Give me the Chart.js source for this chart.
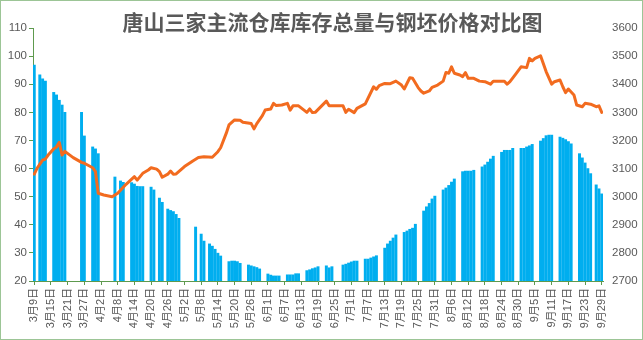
<!DOCTYPE html>
<html>
<head>
<meta charset="utf-8">
<script src="https://cdn.jsdelivr.net/npm/chart.js@4/dist/chart.umd.min.js"></script>
<style>
  html, body { margin: 0; padding: 0; background: #ffffff; }
  #frame { width: 641px; height: 338px; border: 1px solid #9CC596; background: #ffffff; }
  canvas { display: block; }
</style>
</head>
<body>
<div id="frame"><canvas id="c" width="641" height="338"></canvas></div>
<script>
const TITLE = '唐山三家主流仓库库存总量与钢坯价格对比图';
const YEAR = 2020;

// 库存总量（万吨），按交易日
const stockDates = [
  '3-9','3-11','3-12','3-13','3-16','3-17','3-18','3-19','3-20','3-26','3-27','3-30','3-31',
  '4-1','4-7','4-9','4-10','4-13','4-14','4-15','4-16','4-17','4-20','4-21','4-23','4-24',
  '4-26','4-27','4-28','4-29','4-30','5-6','5-8','5-9','5-11','5-12','5-13','5-14','5-15',
  '5-18','5-19','5-20','5-21','5-22','5-25','5-26','5-27','5-28','5-29',
  '6-1','6-2','6-3','6-4','6-5','6-8','6-9','6-10','6-11','6-12','6-15','6-16','6-17','6-18','6-19',
  '6-22','6-23','6-24','6-28','6-29','6-30','7-1','7-2','7-3',
  '7-6','7-7','7-8','7-9','7-10','7-13','7-14','7-15','7-16','7-17','7-20','7-21','7-22','7-23','7-24',
  '7-27','7-28','7-29','7-30','7-31','8-3','8-4','8-5','8-6','8-7','8-10','8-11','8-12','8-13','8-14',
  '8-17','8-18','8-19','8-20','8-21','8-24','8-25','8-26','8-27','8-28','8-31','9-1','9-2','9-3','9-4',
  '9-7','9-8','9-9','9-10','9-11','9-14','9-15','9-16','9-17','9-18','9-21','9-22','9-23','9-24','9-25',
  '9-27','9-28','9-29'
];
const stockValues = [
  96.8, 93.3, 91.9, 91.1, 87.1, 86.2, 84.3, 82.6, 80.0, 80.0, 71.6, 67.7, 67.0,
  65.3, 57.0, 55.6, 55.1, 55.0, 54.5, 53.7, 53.6, 53.6, 53.4, 52.4, 49.5, 48.0,
  45.6, 45.1, 44.7, 43.7, 42.3, 39.2, 36.7, 34.2, 33.2, 32.4, 31.3, 29.9, 28.9,
  26.9, 27.1, 27.1, 26.9, 26.3, 25.7, 25.4, 25.1, 24.8, 24.3,
  22.5, 22.1, 21.8, 21.8, 21.8, 22.2, 22.2, 22.2, 22.6, 22.6, 23.7, 24.0, 24.4, 24.7, 25.1,
  25.4, 24.7, 25.1, 25.7, 26.0, 26.4, 26.8, 27.1, 27.1,
  27.8, 27.8, 28.2, 28.6, 29.0, 31.7, 33.2, 34.2, 35.3, 36.4, 37.3, 37.8, 38.4, 38.8, 40.2,
  44.9, 46.4, 47.6, 49.2, 50.2, 52.4, 53.1, 54.0, 55.2, 56.3, 58.9, 59.1, 59.1, 59.1, 59.4,
  60.6, 61.3, 62.3, 63.4, 64.4, 65.8, 66.5, 66.5, 66.5, 67.2, 67.2, 67.2, 67.7, 68.1, 68.6,
  69.8, 70.7, 71.7, 71.9, 71.9, 71.2, 70.8, 70.3, 69.6, 68.8, 65.3, 63.8, 62.0, 60.0, 58.2,
  54.2, 52.8, 51.0
];

// 钢坯价格（元/吨）
const priceDates = [
  '3-9','3-10','3-12','3-13','3-14','3-16','3-17','3-18','3-19','3-20','3-23','3-26','3-27','3-30','3-31',
  '4-1','4-3','4-6','4-8','4-11','4-14','4-15','4-17','4-19','4-20','4-22','4-23','4-24','4-26','4-27','4-28','4-29',
  '5-2','5-5','5-7','5-9','5-12','5-14','5-15','5-17','5-18','5-20','5-22','5-23','5-26','5-27','5-28','5-30','5-31',
  '6-2','6-3','6-4','6-6','6-8','6-9','6-10','6-12','6-15','6-16','6-17','6-18','6-22','6-23','6-28','6-29','6-30',
  '7-2','7-3','7-6','7-9','7-10','7-11','7-13','7-15','7-17','7-19','7-20','7-22','7-23','7-25','7-26','7-27','7-29','7-30',
  '8-1','8-3','8-4','8-5','8-6','8-7','8-9','8-10','8-11','8-12','8-14','8-16','8-18','8-20','8-21','8-25','8-26','8-27','8-29','8-31',
  '9-2','9-3','9-4','9-5','9-7','9-9','9-11','9-12','9-14','9-15','9-16','9-17','9-19','9-20','9-22','9-23','9-25','9-27','9-28','9-29'
];
const priceValues = [
  3080, 3101, 3130, 3134, 3148, 3170, 3177, 3193, 3148, 3161, 3139, 3122, 3119, 3103, 3089,
  3012, 3006, 3000, 3012, 3044, 3071, 3059, 3083, 3095, 3103, 3098, 3089, 3069, 3080, 3091, 3080, 3081,
  3107, 3127, 3139, 3142, 3140, 3160, 3174, 3225, 3255, 3273, 3272, 3265, 3260, 3241, 3260, 3288, 3308,
  3312, 3332, 3324, 3326, 3332, 3308, 3323, 3323, 3300, 3312, 3299, 3300, 3340, 3323, 3323, 3300, 3311,
  3299, 3314, 3330, 3391, 3382, 3395, 3403, 3402, 3411, 3397, 3383, 3423, 3421, 3388, 3376, 3368, 3376, 3389,
  3397, 3411, 3442, 3439, 3462, 3439, 3433, 3427, 3441, 3421, 3421, 3411, 3409, 3400, 3411, 3411, 3400, 3409, 3435, 3462,
  3459, 3492, 3483, 3492, 3501, 3445, 3400, 3409, 3415, 3391, 3370, 3383, 3362, 3326, 3320, 3332, 3329, 3320, 3323, 3300
];

const tickLabels = [
  '3月9日','3月15日','3月21日','3月27日','4月2日','4月8日','4月14日','4月20日','4月26日',
  '5月2日','5月8日','5月14日','5月20日','5月26日','6月1日','6月7日','6月13日','6月19日','6月25日',
  '7月1日','7月7日','7月13日','7月19日','7月25日','7月31日','8月6日','8月12日','8月18日','8月24日',
  '8月30日','9月5日','9月11日','9月17日','9月23日','9月29日'
];

const START = Date.UTC(YEAR, 2, 9);
function dayOf(m, d) { return Math.round((Date.UTC(YEAR, m - 1, d) - START) / 86400000); }
function dayOfDate(s) { const [m, d] = s.split('-').map(Number); return dayOf(m, d); }
function dayOfLabel(l) { const r = l.match(/(\d+)月(\d+)日/); return dayOf(+r[1], +r[2]); }

const tickDays = tickLabels.map(dayOfLabel);
const labelByDay = {};
tickLabels.forEach((l, i) => { labelByDay[tickDays[i]] = l; });

const stockPoints = stockDates.map((s, i) => ({ x: dayOfDate(s), y: stockValues[i] }));
const pricePoints = priceDates.map((s, i) => ({ x: dayOfDate(s), y: priceValues[i] }));
const lastDay = tickDays[tickDays.length - 1];

const AXIS_GREEN = '#5E9A4E';
const TEXT = '#595959';
const TICK_FONT = { family: '"Liberation Sans", "Noto Sans CJK SC", sans-serif', size: 11.5 };

const titlePlugin = {
  id: 'chartTitle',
  afterDraw(chart) {
    const ctx = chart.ctx;
    ctx.save();
    ctx.font = 'bold 21px "Noto Sans CJK SC", sans-serif';
    ctx.fillStyle = TEXT;
    ctx.textAlign = 'center';
    ctx.textBaseline = 'middle';
    ctx.fillText(TITLE, chart.width / 2 + 11, 21);
    ctx.restore();
  }
};

new Chart(document.getElementById('c'), {
  type: 'bar',
  data: {
    datasets: [
      {
        type: 'line',
        label: '钢坯价格',
        data: pricePoints,
        yAxisID: 'y1',
        borderColor: '#F26B1F',
        borderWidth: 3,
        pointRadius: 0,
        tension: 0,
        borderJoinStyle: 'round',
        borderCapStyle: 'round',
        order: 0
      },
      {
        type: 'bar',
        label: '库存总量',
        data: stockPoints,
        yAxisID: 'y',
        backgroundColor: '#00AEEF',
        barThickness: 2.3,
        order: 1
      }
    ]
  },
  options: {
    responsive: false,
    animation: false,
    devicePixelRatio: 1,
    layout: { padding: { top: 27, left: 0, right: 0, bottom: 0 } },
    plugins: { legend: { display: false }, tooltip: { enabled: false }, title: { display: false } },
    scales: {
      x: {
        type: 'linear',
        min: -0.45,
        max: lastDay + 0.45,
        offset: false,
        afterBuildTicks: s => { s.ticks = tickDays.map(v => ({ value: v })); },
        afterFit: s => { s.height = 58; },
        ticks: {
          autoSkip: false,
          maxRotation: 90,
          minRotation: 90,
          padding: 3,
          color: TEXT,
          font: { family: '"Liberation Sans", "Noto Sans CJK SC", sans-serif', size: 11 },
          callback: v => labelByDay[v] || ''
        },
        grid: { display: true, drawOnChartArea: false, drawTicks: true, tickLength: 4, color: AXIS_GREEN, offset: false },
        border: { display: true, color: AXIS_GREEN, width: 1 }
      },
      y: {
        position: 'left',
        min: 20,
        max: 110,
        afterFit: s => { s.width = 32; },
        ticks: { stepSize: 10, color: TEXT, font: TICK_FONT, padding: 2, callback: v => String(v) },
        grid: { drawOnChartArea: false, drawTicks: true, tickLength: 4, color: AXIS_GREEN },
        border: { display: true, color: AXIS_GREEN, width: 1 }
      },
      y1: {
        position: 'right',
        min: 2700,
        max: 3600,
        afterFit: s => { s.width = 39; },
        ticks: { stepSize: 100, color: TEXT, font: TICK_FONT, padding: 1, callback: v => String(v) },
        grid: { display: false, drawTicks: true, tickLength: 8 },
        border: { display: false }
      }
    }
  },
  plugins: [titlePlugin]
});
</script>
</body>
</html>
